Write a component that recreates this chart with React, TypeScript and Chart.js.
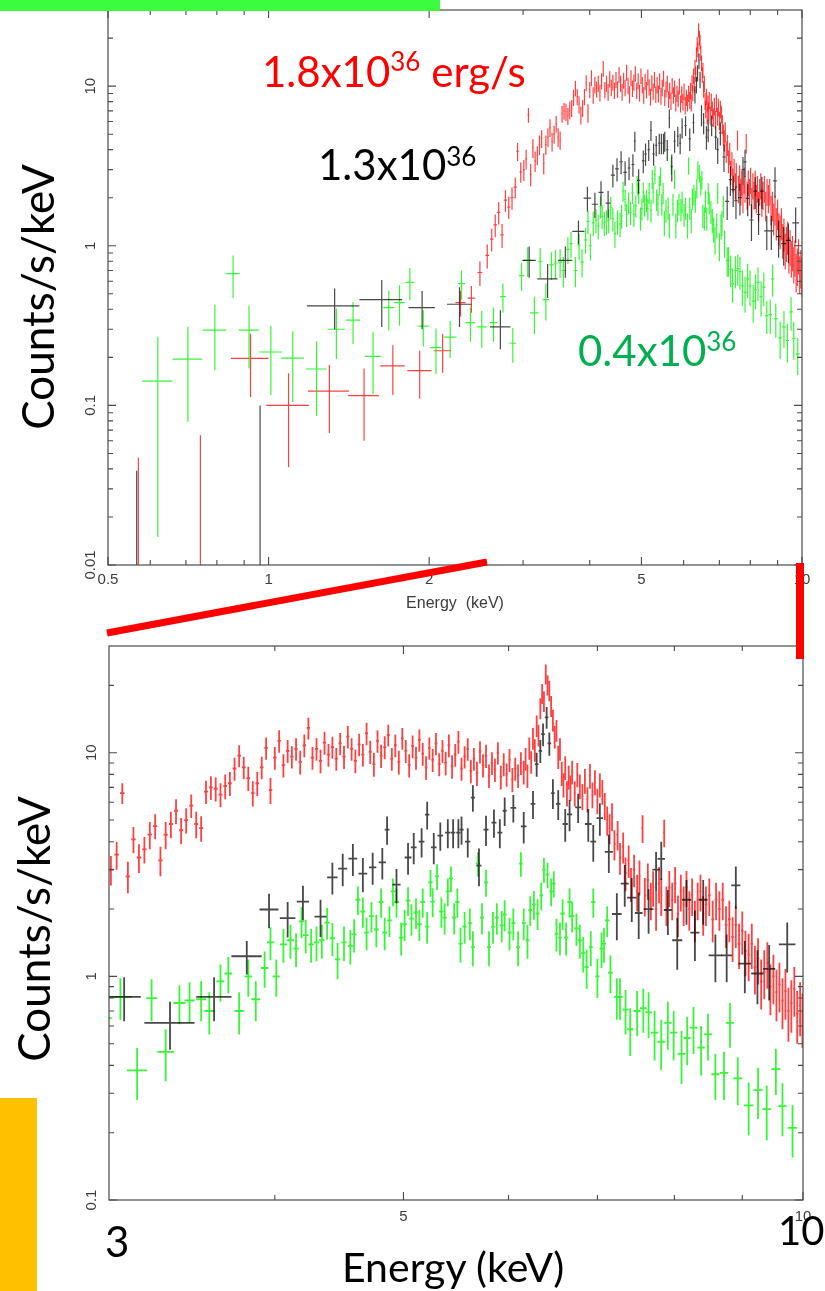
import React, { useEffect, useRef } from "react";
import { Chart, registerables } from "chart.js";

Chart.register(...registerables);

// ---------------- DATA (energy keV, half bin width keV, counts/s/keV, 1-sigma error) ----------------
// Red (1.8e36 erg/s): sparse low-energy bins
const redLowE = [0.570, 0.745, 0.925, 1.09, 1.30, 1.51, 1.71, 1.92, 2.12, 2.29, 2.40, 2.49, 2.57, 2.62, 2.66, 2.70, 2.74, 2.78, 2.82, 2.86, 2.90, 2.93, 2.97];
const redLowW = [0.01, 0.01, 0.075, 0.10, 0.115, 0.10, 0.09, 0.10, 0.08, 0.05, 0.04, 0.025, 0.02, 0.02, 0.02, 0.02, 0.02, 0.02, 0.02, 0.02, 0.02, 0.015, 0.015];
const redLowC = [0.003, 0.003, 0.197, 0.10, 0.123, 0.115, 0.177, 0.165, 0.22, 0.44, 0.47, 0.68, 0.87, 1.10, 1.35, 1.62, 1.17, 1.93, 1.75, 2.0, 2.33, 3.9, 2.9];
const redLowErr = [0.044, 0.062, 0.084, 0.059, 0.056, 0.055, 0.061, 0.055, 0.06, 0.08, 0.09, 0.12, 0.15, 0.18, 0.22, 0.26, 0.2, 0.3, 0.28, 0.32, 0.35, 0.5, 0.42];

// Red dense 3-10 keV
const redE = [
  3.01, 3.04, 3.07, 3.10, 3.13, 3.16, 3.19, 3.22, 3.25, 3.28,
  3.31, 3.34, 3.37, 3.40, 3.43, 3.46, 3.49, 3.52, 3.55, 3.58,
  3.61, 3.64, 3.67, 3.70, 3.73, 3.76, 3.79, 3.82, 3.85, 3.88,
  3.91, 3.94, 3.97, 4.00, 4.03, 4.06, 4.09, 4.12, 4.15, 4.18,
  4.21, 4.24, 4.27, 4.30, 4.33, 4.36, 4.39, 4.42, 4.45, 4.48,
  4.51, 4.54, 4.57, 4.60, 4.63, 4.66, 4.69, 4.72, 4.75, 4.78,
  4.81, 4.84, 4.87, 4.90, 4.93, 4.96, 4.99, 5.02, 5.05, 5.08,
  5.11, 5.14, 5.17, 5.20, 5.23, 5.26, 5.29, 5.32, 5.35, 5.38,
  5.41, 5.44, 5.47, 5.50, 5.53, 5.56, 5.59, 5.62, 5.65, 5.68,
  5.71, 5.74, 5.77, 5.80, 5.83, 5.86, 5.89, 5.92, 5.95, 5.98,
  6.01, 6.04, 6.07, 6.10, 6.13,
  6.16, 6.18, 6.20, 6.22, 6.24, 6.26, 6.28, 6.30, 6.32, 6.34,
  6.36, 6.38, 6.40, 6.42, 6.44, 6.46, 6.48, 6.50, 6.52, 6.54,
  6.56, 6.58, 6.60, 6.62, 6.64, 6.66, 6.68, 6.70,
  6.73, 6.76, 6.79, 6.82, 6.85, 6.88, 6.91, 6.94, 6.97, 7.00,
  7.03, 7.06, 7.09, 7.12,
  7.15, 7.18, 7.21, 7.25, 7.28, 7.32, 7.35, 7.39, 7.42, 7.46,
  7.50, 7.53, 7.57, 7.60, 7.64, 7.68, 7.71, 7.75, 7.79, 7.82,
  7.86, 7.89, 7.93, 7.97, 8.01, 8.05, 8.09, 8.13, 8.17, 8.21,
  8.25, 8.29, 8.33, 8.37, 8.41, 8.45, 8.50, 8.55, 8.60, 8.65,
  8.70, 8.75, 8.80, 8.85, 8.90, 8.95, 9.00, 9.05, 9.10, 9.15,
  9.20, 9.25, 9.30, 9.35, 9.40, 9.45, 9.50, 9.55, 9.60, 9.65,
  9.70, 9.75, 9.80, 9.85, 9.90, 9.95, 9.99,
];
const redC = [
  3.0, 3.5, 6.6, 2.8, 4.1, 3.4, 3.7, 4.3, 4.7, 3.3,
  4.3, 4.8, 5.5, 4.5, 5.0, 5.8, 4.8, 4.6, 6.7, 7.0,
  6.9, 6.5, 7.1, 7.3, 8.5, 9.7, 8.6, 7.7, 6.6, 7.3,
  8.6, 10.5, 6.8, 9.5, 11.3, 8.8, 10.2, 9.6, 10.4, 9.1,
  10.8, 12.9, 9.5, 10.4, 9.2, 11.1, 9.8, 10.6, 9.4, 11.0,
  9.6, 11.8, 10.4, 9.2, 10.9, 9.8, 12.2, 10.1, 8.9, 11.3,
  9.7, 10.6, 12.0, 9.4, 10.8, 9.1, 11.6, 10.2, 8.8, 10.7,
  9.5, 11.4, 9.9, 8.6, 10.5, 9.3, 11.0, 8.9, 10.2, 9.0,
  10.8, 8.7, 9.8, 11.2, 8.5, 9.6, 10.4, 8.3, 9.4, 8.1,
  10.1, 8.8, 9.7, 7.9, 9.0, 8.4, 10.0, 7.8, 8.9, 8.0,
  9.3, 7.6, 8.5, 7.9, 9.0,
  8.2, 9.4, 7.9, 10.5, 9.1, 11.6, 10.3, 13.2, 12.0, 15.8,
  18.4, 17.0, 22.5, 20.1, 19.0, 16.2, 14.0, 11.8, 12.6, 9.6,
  10.4, 8.1, 7.2, 8.6, 6.6, 7.8, 7.0, 8.2,
  6.6, 8.0, 7.1, 6.4, 7.5, 6.2, 7.9, 6.5, 7.4, 6.1,
  7.2, 6.7, 5.8, 5.0,
  4.6, 5.2, 3.9, 4.3, 3.4, 3.8, 2.9, 3.3, 2.6, 3.0,
  2.4, 2.8, 4.6, 2.3, 2.7, 2.2, 2.5, 2.0, 2.6, 2.3,
  4.4, 2.1, 2.5, 2.2, 2.6, 1.9, 2.4, 2.1, 2.5, 2.0,
  2.3, 1.8, 2.2, 2.4, 1.9, 2.1, 2.3, 1.8, 2.2, 2.0,
  2.2, 1.7, 1.8, 1.5, 1.7, 1.4, 1.6, 1.3, 1.25, 1.4,
  1.1, 1.2, 0.95, 1.05, 1.15, 0.9, 1.0, 0.85, 0.92, 0.78,
  0.86, 0.70, 0.76, 0.88, 0.68, 0.74, 0.66,
];
const redErr = [
  0.45, 0.5, 0.7, 0.45, 0.55, 0.5, 0.5, 0.6, 0.6, 0.5,
  0.6, 0.65, 0.7, 0.6, 0.65, 0.7, 0.65, 0.6, 0.8, 0.85,
  0.85, 0.8, 0.9, 0.9, 1.0, 1.1, 1.0, 0.95, 0.85, 0.9,
  1.0, 1.2, 0.9, 1.1, 1.3, 1.05, 1.2, 1.1, 1.2, 1.1,
  1.25, 1.45, 1.1, 1.2, 1.1, 1.3, 1.15, 1.2, 1.1, 1.25,
  1.15, 1.35, 1.2, 1.1, 1.25, 1.15, 1.4, 1.2, 1.1, 1.3,
  1.15, 1.25, 1.35, 1.1, 1.25, 1.1, 1.3, 1.2, 1.05, 1.25,
  1.1, 1.3, 1.15, 1.05, 1.2, 1.1, 1.25, 1.05, 1.2, 1.1,
  1.25, 1.05, 1.15, 1.3, 1.0, 1.1, 1.2, 1.0, 1.1, 1.0,
  1.15, 1.05, 1.15, 0.95, 1.05, 1.0, 1.15, 0.95, 1.05, 0.95,
  1.1, 0.95, 1.0, 0.95, 1.05,
  1.0, 1.1, 0.95, 1.2, 1.05, 1.3, 1.2, 1.45, 1.35, 1.7,
  1.9, 1.8, 2.3, 2.1, 2.0, 1.75, 1.55, 1.35, 1.4, 1.15,
  1.2, 1.0, 0.9, 1.05, 0.85, 0.95, 0.9, 1.0,
  0.85, 1.0, 0.9, 0.85, 0.95, 0.8, 1.0, 0.85, 0.95, 0.8,
  0.9, 0.85, 0.8, 0.75,
  0.7, 0.75, 0.6, 0.65, 0.55, 0.6, 0.5, 0.55, 0.45, 0.5,
  0.45, 0.5, 0.65, 0.45, 0.5, 0.42, 0.45, 0.4, 0.48, 0.44,
  0.62, 0.42, 0.46, 0.42, 0.48, 0.4, 0.45, 0.42, 0.46, 0.4,
  0.44, 0.38, 0.42, 0.45, 0.38, 0.42, 0.44, 0.38, 0.42, 0.4,
  0.42, 0.36, 0.38, 0.34, 0.36, 0.32, 0.35, 0.3, 0.3, 0.32,
  0.27, 0.28, 0.24, 0.26, 0.27, 0.23, 0.25, 0.22, 0.23, 0.2,
  0.22, 0.19, 0.2, 0.22, 0.18, 0.2, 0.18,
];

// Black (1.3e36 erg/s)
const blackE = [
  0.566, 0.964, 1.33, 1.63, 1.94, 2.28, 2.72,
  3.08, 3.335, 3.60, 3.81, 3.96, 4.09, 4.20, 4.33, 4.42, 4.50,
  4.58, 4.66, 4.74, 4.82, 4.86, 4.94, 5.04, 5.09, 5.16, 5.21,
  5.27, 5.33, 5.40, 5.45, 5.50, 5.53, 5.59, 5.64, 5.70, 5.77,
  5.85, 5.91, 5.96, 6.05, 6.16, 6.26, 6.30, 6.34, 6.37, 6.41,
  6.44, 6.48, 6.54, 6.62, 6.67, 6.77, 6.89, 6.95, 7.03, 7.14,
  7.24, 7.34, 7.43, 7.52, 7.65, 7.75, 7.82, 7.91, 8.04, 8.17,
  8.29, 8.41, 8.59, 8.76, 8.90, 9.04, 9.24, 9.43, 9.73,
];
const blackW = [
  0.01, 0.01, 0.15, 0.15, 0.11, 0.12, 0.12,
  0.09, 0.145, 0.11, 0.10, 0.065, 0.055, 0.045, 0.045, 0.04, 0.035,
  0.035, 0.035, 0.03, 0.03, 0.02, 0.035, 0.03, 0.025, 0.025, 0.02,
  0.025, 0.025, 0.025, 0.02, 0.02, 0.02, 0.025, 0.02, 0.025, 0.025,
  0.025, 0.025, 0.02, 0.03, 0.03, 0.025, 0.02, 0.02, 0.02, 0.02,
  0.02, 0.02, 0.025, 0.03, 0.03, 0.035, 0.04, 0.035, 0.04, 0.05,
  0.06, 0.05, 0.06, 0.05, 0.065, 0.05, 0.05, 0.055, 0.07, 0.065,
  0.065, 0.065, 0.1, 0.08, 0.07, 0.1, 0.1, 0.1, 0.14,
];
const blackC = [
  0.003, 0.003, 0.42, 0.46, 0.41, 0.43, 0.31,
  0.81, 0.62, 0.81, 1.23, 1.99, 1.82, 2.16, 1.85, 2.77, 3.03,
  3.36, 2.88, 3.07, 3.23, 4.53, 2.57, 3.40, 3.77, 4.0, 5.29,
  3.77, 4.26, 4.39, 4.39, 4.39, 4.53, 4.0, 6.3, 3.13, 4.53,
  4.87, 4.39, 5.5, 5.67, 4.68, 5.9, 8.9, 10.2, 12.1, 14.4,
  11.0, 6.6, 5.9, 4.8, 5.3, 5.7, 4.8, 4.0, 5.1, 3.6,
  1.9, 2.6, 2.25, 1.92, 2.0, 3.0, 3.35, 1.98, 1.45, 2.2,
  1.57, 2.2, 1.24, 1.24, 2.55, 1.14, 1.03, 1.08, 1.39,
];
const blackErr = [
  0.036, 0.097, 0.12, 0.15, 0.11, 0.12, 0.085,
  0.18, 0.15, 0.18, 0.21, 0.35, 0.33, 0.38, 0.35, 0.45, 0.5,
  0.55, 0.5, 0.5, 0.52, 0.65, 0.45, 0.55, 0.6, 0.6, 0.75,
  0.6, 0.62, 0.65, 0.65, 0.65, 0.65, 0.6, 0.85, 0.6, 0.7,
  0.7, 0.65, 0.8, 0.8, 0.75, 0.85, 1.1, 1.2, 1.4, 1.6,
  1.3, 1.0, 0.9, 0.8, 0.85, 0.85, 0.8, 0.75, 0.85, 0.7,
  0.45, 0.55, 0.5, 0.45, 0.45, 0.6, 0.65, 0.45, 0.38, 0.5,
  0.4, 0.5, 0.3, 0.3, 0.55, 0.3, 0.28, 0.3, 0.35,
];

// Green (0.4e36 erg/s)
const greenE = [
  0.62, 0.706, 0.793, 0.858, 0.919, 1.01, 1.11, 1.23, 1.34, 1.44,
  1.57, 1.68, 1.76, 1.84, 1.95, 2.06, 2.19, 2.30, 2.39, 2.51,
  2.64, 2.75, 2.87, 2.98,
  3.06, 3.15, 3.23, 3.31, 3.39, 3.45, 3.52, 3.57, 3.64, 3.69,
  3.76, 3.82, 3.87, 3.93, 3.97, 4.01, 4.06, 4.11, 4.15, 4.19,
  4.22, 4.26, 4.30, 4.34, 4.38, 4.42, 4.46, 4.51, 4.56, 4.59,
  4.62, 4.66, 4.69, 4.73, 4.77, 4.81, 4.84, 4.88, 4.91, 4.94,
  4.98, 5.01, 5.04, 5.07, 5.11, 5.14, 5.17, 5.21, 5.24, 5.26,
  5.30, 5.34, 5.37, 5.40, 5.43, 5.46, 5.49, 5.52, 5.56, 5.61,
  5.64, 5.69, 5.73, 5.77, 5.80, 5.84, 5.88, 5.93, 5.96, 6.01,
  6.05, 6.10, 6.13, 6.16, 6.20, 6.23, 6.27, 6.31,
  6.35, 6.38, 6.42, 6.46, 6.49, 6.52, 6.56, 6.59, 6.63, 6.67,
  6.70, 6.75, 6.79, 6.83, 6.87, 6.92, 6.95, 7.00, 7.05, 7.08,
  7.12, 7.16, 7.24, 7.28, 7.35, 7.41, 7.50, 7.58, 7.65, 7.73,
  7.82, 7.91, 7.99, 8.10, 8.18, 8.27, 8.38, 8.48, 8.59, 8.72,
  8.81, 8.93, 9.10, 9.25, 9.39, 9.54, 9.65, 9.82,
];
const greenW = [
  0.04, 0.045, 0.04, 0.025, 0.04, 0.05, 0.055, 0.055, 0.05, 0.045,
  0.055, 0.04, 0.04, 0.035, 0.045, 0.05, 0.06, 0.035, 0.05, 0.05,
  0.045, 0.035, 0.04, 0.035,
  0.06, 0.055, 0.03, 0.048, 0.035, 0.03, 0.03, 0.03, 0.025, 0.025,
  0.03, 0.025, 0.03, 0.025, 0.025, 0.025, 0.025, 0.025, 0.02, 0.02,
  0.02, 0.02, 0.02, 0.02, 0.02, 0.02, 0.02, 0.02, 0.02, 0.02,
  0.02, 0.02, 0.02, 0.02, 0.02, 0.02, 0.02, 0.02, 0.02, 0.02,
  0.02, 0.02, 0.02, 0.02, 0.02, 0.02, 0.02, 0.02, 0.02, 0.02,
  0.02, 0.02, 0.02, 0.02, 0.02, 0.02, 0.02, 0.02, 0.02, 0.02,
  0.02, 0.02, 0.02, 0.02, 0.02, 0.02, 0.02, 0.02, 0.02, 0.02,
  0.02, 0.02, 0.02, 0.02, 0.02, 0.02, 0.02, 0.02,
  0.02, 0.02, 0.02, 0.02, 0.02, 0.02, 0.02, 0.025, 0.025, 0.025,
  0.025, 0.025, 0.025, 0.025, 0.025, 0.025, 0.025, 0.025, 0.025, 0.025,
  0.03, 0.03, 0.035, 0.035, 0.04, 0.04, 0.045, 0.045, 0.045, 0.05,
  0.05, 0.05, 0.05, 0.055, 0.05, 0.055, 0.055, 0.06, 0.06, 0.065,
  0.06, 0.07, 0.075, 0.075, 0.07, 0.075, 0.07, 0.08,
];
const greenC = [
  0.142, 0.195, 0.296, 0.67, 0.296, 0.216, 0.198, 0.169, 0.30, 0.342,
  0.203, 0.41, 0.44, 0.59, 0.314, 0.23, 0.268, 0.58, 0.33, 0.31,
  0.33, 0.48, 0.245, 0.65,
  0.81, 0.38, 0.80, 0.46, 0.76, 0.78, 0.79, 0.70, 0.95, 1.03,
  0.70, 1.0, 0.79, 1.09, 1.42, 1.0, 1.39, 1.45, 1.33, 1.76,
  1.53, 1.39, 1.42, 1.45, 1.74, 1.48, 1.19, 1.42, 1.37, 1.54,
  2.2, 1.95, 1.57, 1.86, 1.62, 2.15, 1.57, 1.78, 2.4, 2.15,
  1.49, 1.71, 2.18, 1.81, 1.93, 1.71, 2.15, 1.67, 2.63, 2.16,
  2.8, 1.95, 1.83, 2.4, 2.74, 1.83, 2.15, 1.40, 1.67, 1.73,
  1.35, 3.19, 1.83, 2.63, 1.35, 1.67, 1.83, 1.69, 1.89, 1.57,
  1.73, 1.35, 3.19, 1.73, 1.45, 1.98, 2.1, 1.91,
  2.3, 3.0, 2.85, 2.4, 2.6, 1.55, 1.49, 1.91, 1.49, 2.15,
  1.86, 1.64, 1.45, 1.27, 1.10, 1.35, 2.15, 1.0, 1.33, 1.40,
  1.78, 1.04, 0.81, 0.81, 0.71, 0.58, 0.70, 0.72, 0.69, 0.56,
  0.51, 0.62, 0.56, 0.45, 0.53, 0.59, 0.48, 0.55, 0.365, 0.37,
  0.62, 0.35, 0.265, 0.31, 0.255, 0.385, 0.263, 0.21,
];
const greenErr = [
  0.127, 0.116, 0.13, 0.2, 0.125, 0.10, 0.093, 0.083, 0.105, 0.10,
  0.085, 0.115, 0.125, 0.135, 0.08, 0.073, 0.07, 0.12, 0.08, 0.08,
  0.08, 0.1, 0.06, 0.13,
  0.17, 0.1, 0.17, 0.12, 0.15, 0.16, 0.16, 0.15, 0.18, 0.19,
  0.15, 0.19, 0.16, 0.2, 0.24, 0.19, 0.24, 0.25, 0.23, 0.28,
  0.26, 0.24, 0.25, 0.25, 0.28, 0.25, 0.22, 0.25, 0.24, 0.26,
  0.32, 0.3, 0.26, 0.29, 0.27, 0.32, 0.26, 0.28, 0.34, 0.32,
  0.25, 0.27, 0.32, 0.29, 0.3, 0.27, 0.32, 0.27, 0.36, 0.32,
  0.37, 0.3, 0.29, 0.34, 0.36, 0.29, 0.32, 0.25, 0.27, 0.28,
  0.24, 0.4, 0.29, 0.36, 0.24, 0.27, 0.29, 0.27, 0.3, 0.26,
  0.28, 0.24, 0.4, 0.28, 0.25, 0.3, 0.31, 0.3,
  0.33, 0.38, 0.37, 0.34, 0.35, 0.26, 0.25, 0.3, 0.25, 0.32,
  0.29, 0.27, 0.25, 0.23, 0.22, 0.24, 0.32, 0.2, 0.24, 0.25,
  0.28, 0.2, 0.17, 0.17, 0.16, 0.14, 0.16, 0.16, 0.16, 0.14,
  0.13, 0.15, 0.14, 0.12, 0.13, 0.14, 0.12, 0.13, 0.085, 0.09,
  0.14, 0.085, 0.07, 0.08, 0.07, 0.09, 0.07, 0.055,
];

// Axis ticks
const topXMajor = [0.5, 1, 2, 5, 10];
const topXLabels = ["0.5", "1", "2", "5", "10"];
const topXMinor = [0.6, 0.7, 0.8, 0.9, 3, 4, 6, 7, 8, 9];
const topYMajor = [0.01, 0.1, 1, 10];
const topYLabels = ["0.01", "0.1", "1", "10"];
const topYMinor = [0.02, 0.03, 0.04, 0.05, 0.06, 0.07, 0.08, 0.09, 0.2, 0.3, 0.4, 0.5, 0.6, 0.7, 0.8, 0.9, 2, 3, 4, 5, 6, 7, 8, 9, 20];
const botXMajor = [5, 10];
const botXLabels = ["5", "10"];
const botXMinor = [4, 6, 7, 8, 9];
const botYMajor = [0.1, 1, 10];
const botYLabels = ["0.1", "1", "10"];
const botYMinor = [0.2, 0.3, 0.4, 0.5, 0.6, 0.7, 0.8, 0.9, 2, 3, 4, 5, 6, 7, 8, 9, 20];

// ---------------- helpers ----------------
type Pt = { x: number; y: number; xl: number; xh: number; yl: number; yh: number };

function binned(E: number[], W: number[], C: number[], Err: number[]): Pt[] {
  return E.map((e, i) => ({ x: e, y: C[i], xl: e - W[i], xh: e + W[i], yl: C[i] - Err[i], yh: C[i] + Err[i] }));
}
function contiguous(E: number[], C: number[], Err: number[]): Pt[] {
  return E.map((e, i) => {
    const lo = i > 0 ? e - E[i - 1] : E[1] - E[0];
    const hi = i < E.length - 1 ? E[i + 1] - e : e - E[i - 1];
    return { x: e, y: C[i], xl: e - lo * 0.4, xh: e + hi * 0.4, yl: C[i] - Err[i], yh: C[i] + Err[i] };
  });
}

const errorBarPlugin = {
  id: "errorBars",
  afterDatasetsDraw(chart: any) {
    const { ctx, chartArea: a } = chart;
    const xs = chart.scales.x;
    const ys = chart.scales.y;
    ctx.save();
    ctx.beginPath();
    ctx.rect(a.left, a.top, a.right - a.left, a.bottom - a.top);
    ctx.clip();
    chart.data.datasets.forEach((ds: any) => {
      ctx.strokeStyle = ds.barColor;
      ctx.lineWidth = ds.barWidth;
      ctx.lineCap = "butt";
      for (const p of ds.data as Pt[]) {
        const px = xs.getPixelForValue(p.x);
        const py = ys.getPixelForValue(p.y);
        const x1 = xs.getPixelForValue(p.xl);
        const x2 = xs.getPixelForValue(p.xh);
        const y1 = ys.getPixelForValue(p.yl > 0 ? p.yl : 1e-6);
        const y2 = ys.getPixelForValue(p.yh);
        ctx.beginPath();
        ctx.moveTo(x1, py);
        ctx.lineTo(x2, py);
        ctx.moveTo(px, y1);
        ctx.lineTo(px, y2);
        ctx.stroke();
      }
    });
    ctx.restore();
  },
};

type FrameCfg = {
  xMajor: number[]; xLabels: string[]; xMinor: number[];
  yMajor: number[]; yLabels: string[]; yMinor: number[];
  major: number; minor: number; font: string;
  xLabelDy: number; yLabelDx: number;
  title?: string; titleX?: number; titleY?: number; titleFont?: string;
};

function makeFramePlugin(cfg: FrameCfg) {
  return {
    id: "frame",
    afterDraw(chart: any) {
      const { ctx, chartArea: a } = chart;
      const xs = chart.scales.x;
      const ys = chart.scales.y;
      ctx.save();
      ctx.strokeStyle = "#4a4a4a";
      ctx.lineWidth = 1.2;
      ctx.strokeRect(a.left, a.top, a.right - a.left, a.bottom - a.top);
      ctx.lineWidth = 1.1;
      ctx.beginPath();
      const xt = (v: number, len: number) => {
        const p = xs.getPixelForValue(v);
        ctx.moveTo(p, a.bottom); ctx.lineTo(p, a.bottom - len);
        ctx.moveTo(p, a.top); ctx.lineTo(p, a.top + len);
      };
      const yt = (v: number, len: number) => {
        const p = ys.getPixelForValue(v);
        ctx.moveTo(a.left, p); ctx.lineTo(a.left + len, p);
        ctx.moveTo(a.right, p); ctx.lineTo(a.right - len, p);
      };
      cfg.xMajor.forEach((v) => xt(v, cfg.major));
      cfg.xMinor.forEach((v) => xt(v, cfg.minor));
      cfg.yMajor.forEach((v) => yt(v, cfg.major));
      cfg.yMinor.forEach((v) => yt(v, cfg.minor));
      ctx.stroke();

      ctx.fillStyle = "#3c3c3c";
      ctx.font = cfg.font;
      ctx.textAlign = "center";
      ctx.textBaseline = "middle";
      cfg.xMajor.forEach((v, i) => {
        ctx.fillText(cfg.xLabels[i], xs.getPixelForValue(v), a.bottom + cfg.xLabelDy);
      });
      cfg.yMajor.forEach((v, i) => {
        ctx.save();
        ctx.translate(a.left - cfg.yLabelDx, ys.getPixelForValue(v));
        ctx.rotate(-Math.PI / 2);
        ctx.fillText(cfg.yLabels[i], 0, 0);
        ctx.restore();
      });
      if (cfg.title) {
        ctx.font = cfg.titleFont || cfg.font;
        ctx.fillText(cfg.title, cfg.titleX, cfg.titleY);
      }
      ctx.restore();
    },
  };
}

function buildChart(
  canvas: HTMLCanvasElement,
  xMin: number, xMax: number, yMin: number, yMax: number,
  padding: { left: number; top: number; right: number; bottom: number },
  lw: number,
  frame: FrameCfg
) {
  const red = [...binned(redLowE, redLowW, redLowC, redLowErr), ...contiguous(redE, redC, redErr)];
  const black = binned(blackE, blackW, blackC, blackErr);
  const green = binned(greenE, greenW, greenC, greenErr);
  return new Chart(canvas, {
    type: "scatter",
    data: {
      datasets: [
        { label: "1.8e36", data: red as any, pointRadius: 0, barColor: "rgba(255,0,0,0.75)", barWidth: lw } as any,
        { label: "0.4e36", data: green as any, pointRadius: 0, barColor: "rgba(20,245,20,0.85)", barWidth: lw } as any,
        { label: "1.3e36", data: black as any, pointRadius: 0, barColor: "rgba(0,0,0,0.72)", barWidth: lw } as any,
      ],
    },
    options: {
      animation: false,
      responsive: false,
      devicePixelRatio: 1,
      events: [],
      layout: { padding },
      scales: {
        x: { type: "logarithmic", min: xMin, max: xMax, display: false, bounds: "data" } as any,
        y: { type: "logarithmic", min: yMin, max: yMax, display: false, bounds: "data" } as any,
      },
      plugins: { legend: { display: false }, tooltip: { enabled: false } },
    },
    plugins: [errorBarPlugin, makeFramePlugin(frame)],
  });
}

export default function App() {
  const topRef = useRef<HTMLCanvasElement>(null);
  const botRef = useRef<HTMLCanvasElement>(null);

  useEffect(() => {
    const c1 = buildChart(topRef.current!, 0.5, 10, 0.01, 30,
      { left: 108, top: 10, right: 23, bottom: 75 }, 1.2,
      {
        xMajor: topXMajor, xLabels: topXLabels, xMinor: topXMinor,
        yMajor: topYMajor, yLabels: topYLabels, yMinor: topYMinor,
        major: 8, minor: 5, font: "15px 'Liberation Sans'",
        xLabelDy: 15, yLabelDx: 17,
        title: "Energy  (keV)", titleX: 455, titleY: 604, titleFont: "16px 'Liberation Sans'",
      });
    const c2 = buildChart(botRef.current!, 3, 10, 0.1, 30,
      { left: 109, top: 6, right: 22, bottom: 91 }, 1.8,
      {
        xMajor: botXMajor, xLabels: botXLabels, xMinor: botXMinor,
        yMajor: botYMajor, yLabels: botYLabels, yMinor: botYMinor,
        major: 8, minor: 5, font: "15px 'Liberation Sans'",
        xLabelDy: 17, yLabelDx: 17,
      });
    return () => { c1.destroy(); c2.destroy(); };
  }, []);

  const abs: React.CSSProperties = { position: "absolute", fontFamily: "Lato, 'Open Sans', sans-serif", lineHeight: 1, whiteSpace: "nowrap" };

  return (
    <div style={{ position: "absolute", left: 0, top: 0, width: 825, height: 1291, overflow: "hidden", background: "#fff" }}>
      <canvas ref={topRef} width={825} height={640} style={{ position: "absolute", left: 0, top: 0 }} />
      <canvas ref={botRef} width={825} height={651} style={{ position: "absolute", left: 0, top: 640 }} />

      <div style={{ position: "absolute", left: 0, top: 0, width: 440, height: 11, background: "#3dfc3d" }} />
      <div style={{ position: "absolute", left: 0, top: 1098, width: 37, height: 193, background: "#ffc000" }} />

      <svg width={825} height={1291} style={{ position: "absolute", left: 0, top: 0 }}>
        <line x1={107} y1={633} x2={487} y2={562} stroke="#ff0000" strokeWidth={7} />
        <rect x={796} y={563} width={8} height={96} fill="#ff0000" />
      </svg>

      <div style={{ ...abs, left: 262, top: 50, fontSize: 42, color: "#ff0000" }}>
        1.8x10<span style={{ fontSize: 26, position: "relative", top: -16 }}>36</span> erg/s
      </div>
      <div style={{ ...abs, left: 318, top: 143, fontSize: 42, color: "#000" }}>
        1.3x10<span style={{ fontSize: 26, position: "relative", top: -14 }}>36</span>
      </div>
      <div style={{ ...abs, left: 578, top: 329, fontSize: 42, color: "#00b050" }}>
        0.4x10<span style={{ fontSize: 26, position: "relative", top: -15 }}>36</span>
      </div>

      <div style={{ ...abs, left: 37, top: 297, fontSize: 44, color: "#000", transform: "translate(-50%,-50%) rotate(-90deg)" }}>
        Counts/s/keV
      </div>
      <div style={{ ...abs, left: 33, top: 929, fontSize: 44, color: "#000", transform: "translate(-50%,-50%) rotate(-90deg)" }}>
        Counts/s/keV
      </div>

      <div style={{ ...abs, left: 105, top: 1220, fontSize: 42, color: "#000" }}>3</div>
      <div style={{ ...abs, left: 778, top: 1210, fontSize: 40, color: "#000" }}>10</div>
      <div style={{ ...abs, left: 342, top: 1246, fontSize: 41, color: "#000" }}>Energy (keV)</div>
    </div>
  );
}
